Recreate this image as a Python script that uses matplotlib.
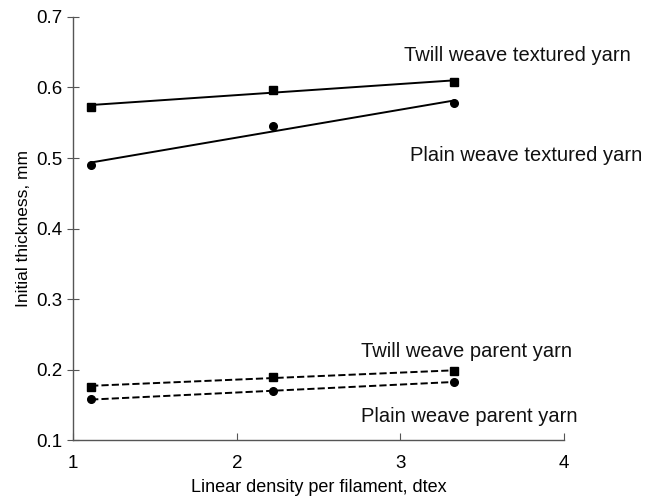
import numpy as np
import matplotlib
matplotlib.use('Agg')
import matplotlib.pyplot as plt

plt.rcParams['font.family'] = ['Liberation Sans', 'DejaVu Sans']

# linear density per filament, dtex
density = [1.11, 2.22, 3.33]

# initial thickness, mm
twill_textured = [0.573, 0.597, 0.608]
plain_textured = [0.490, 0.545, 0.578]
twill_parent = [0.176, 0.190, 0.198]
plain_parent = [0.158, 0.169, 0.183]

labels = ['Twill weave textured yarn', 'Plain weave textured yarn',
          'Twill weave parent yarn', 'Plain weave parent yarn']


def main():
    fig = plt.figure(figsize=(6.59, 4.99), dpi=100)
    ax = fig.add_axes([0.111, 0.118, 0.745, 0.848])

    x = np.array(density)
    series = [
        (twill_textured, 's', '-'),
        (plain_textured, 'o', '-'),
        (twill_parent, 's', '--'),
        (plain_parent, 'o', '--'),
    ]
    for vals, marker, ls in series:
        ax.plot(x, vals, linestyle='none', marker=marker, color='black',
                markersize=6 if marker == 's' else 5.5)
        # linear trendline
        k, b = np.polyfit(x, vals, 1)
        ax.plot(x, k * x + b, linestyle=ls, color='black', linewidth=1.4)

    fs = 14.5
    ax.text(3.02, 0.646, labels[0], fontsize=fs, va='center', color='#111111')
    ax.text(3.06, 0.504, labels[1], fontsize=fs, va='center', color='#111111')
    ax.text(2.76, 0.226, labels[2], fontsize=fs, va='center', color='#111111')
    ax.text(2.76, 0.133, labels[3], fontsize=fs, va='center', color='#111111')

    ax.set_xlim(1, 4)
    ax.set_ylim(0.1, 0.7)
    ax.set_xticks([1, 2, 3, 4])
    ax.set_yticks([0.1, 0.2, 0.3, 0.4, 0.5, 0.6, 0.7])
    ax.set_yticklabels(['0.1', '0.2', '0.3', '0.4', '0.5', '0.6', '0.7'])

    ax.spines['top'].set_visible(False)
    ax.spines['right'].set_visible(False)
    for s in ['left', 'bottom']:
        ax.spines[s].set_color('#555555')
        ax.spines[s].set_linewidth(1.0)
    ax.tick_params(axis='x', direction='in', length=5, color='#555555',
                   labelsize=13.5, pad=11)
    ax.tick_params(axis='y', direction='inout', length=8, color='#555555',
                   labelsize=13.5)

    ax.set_xlabel('Linear density per filament, dtex', fontsize=13, labelpad=5)
    ax.set_ylabel('Initial thickness, mm', fontsize=12.5, labelpad=4)

    plt.savefig('out.png', dpi=100)


if __name__ == "__main__":
    main()
